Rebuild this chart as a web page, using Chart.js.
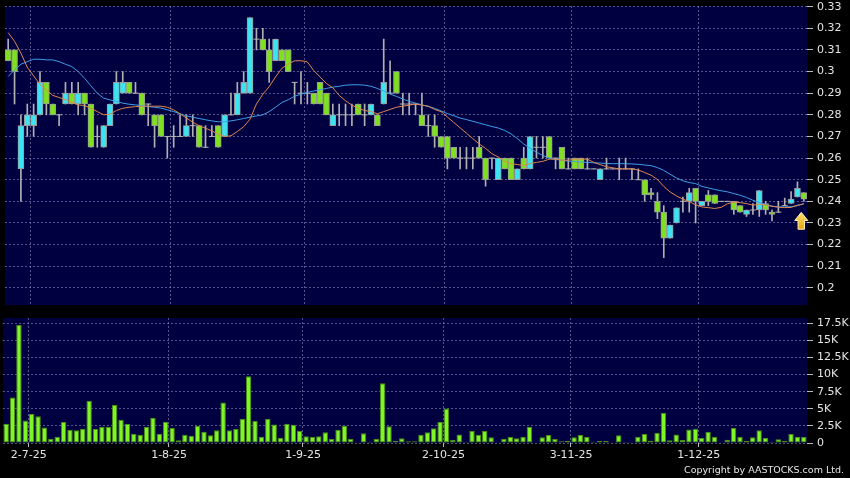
<!DOCTYPE html>
<html>
<head>
<meta charset="utf-8">
<script src="https://cdn.jsdelivr.net/npm/chart.js@4.4.1/dist/chart.umd.min.js"></script>
<style>
  html, body { margin: 0; padding: 0; background: #000; }
  #wrap { position: relative; width: 850px; height: 478px; overflow: hidden; background: #000; }
  #pricebox { position: absolute; left: 0; top: 0; width: 850px; height: 310px; }
  #volbox { position: absolute; left: 0; top: 310px; width: 850px; height: 168px; }
  #copy { position: absolute; right: 6px; top: 464px; color: #e6e6e6; font: 9.5px "DejaVu Sans", sans-serif; white-space: nowrap; }
</style>
</head>
<body>
<div id="wrap">
  <div id="pricebox"><canvas id="price" width="850" height="310"></canvas></div>
  <div id="volbox"><canvas id="vol" width="850" height="168"></canvas></div>
  <div id="copy">Copyright by AASTOCKS.com Ltd.</div>
</div>
<script>
// daily candles, oldest first
var opens = [
  .31, .31, .255, .275, .275, .28, .295, .285, .28, .285,
  .29, .285, .29, .285, .27, .265, .275, .285, .29, .295,
  .29, .29, .285, .28, .28, .27, .27, .27, .27, .275,
  .275, .265, .27, .275, .27, .28, .28, .29, .29, .315,
  .315, .31, .305, .31, .31, .295, .29, .29, .29, .295,
  .29, .275, .28, .28, .28, .285, .28, .28, .28, .285,
  .29, .30, .285, .285, .285, .28, .275, .275, .27, .27,
  .265, .26, .26, .26, .265, .26, .26, .25, .26, .26,
  .25, .26, .255, .265, .265, .27, .26, .265, .255, .26,
  .26, .255, .255, .25, .255, .255, .255, .255, .255, .25,
  .25, .244, .24, .235, .223, .23, .24, .24, .246, .238,
  .243, .243, .24, .24, .24, .238, .234, .236, .236, .239,
  .235, .235, .238, .239, .242, .244
];
var highs = [
  .315, .31, .28, .285, .285, .30, .295, .285, .28, .295,
  .295, .295, .29, .285, .275, .275, .285, .30, .30, .295,
  .295, .29, .285, .28, .28, .27, .275, .28, .28, .28,
  .275, .275, .275, .275, .28, .29, .295, .30, .325, .32,
  .32, .315, .315, .31, .31, .295, .30, .295, .29, .295,
  .29, .285, .285, .285, .285, .285, .285, .285, .28, .315,
  .305, .30, .29, .29, .285, .29, .28, .28, .27, .27,
  .265, .265, .265, .265, .27, .26, .26, .26, .26, .26,
  .255, .265, .27, .27, .27, .27, .26, .265, .26, .26,
  .26, .26, .255, .255, .26, .255, .26, .26, .255, .255,
  .25, .246, .244, .238, .229, .237, .242, .246, .246, .24,
  .245, .243, .24, .24, .24, .238, .236, .239, .245, .24,
  .236, .24, .2415, .2445, .249, .244
];
var lows = [
  .305, .285, .24, .27, .27, .28, .28, .28, .275, .285,
  .285, .28, .28, .265, .265, .265, .275, .285, .29, .29,
  .29, .28, .275, .265, .27, .26, .265, .27, .27, .27,
  .265, .265, .27, .265, .27, .28, .28, .29, .29, .31,
  .31, .295, .305, .305, .30, .285, .285, .285, .285, .285,
  .28, .275, .275, .275, .275, .28, .275, .28, .275, .285,
  .29, .29, .28, .28, .28, .275, .27, .265, .265, .255,
  .26, .255, .255, .255, .26, .247, .255, .25, .255, .25,
  .25, .255, .255, .26, .26, .26, .255, .255, .255, .255,
  .255, .255, .255, .25, .255, .255, .25, .255, .25, .25,
  .24, .241, .232, .214, .223, .23, .235, .235, .23, .238,
  .238, .239, .24, .24, .234, .235, .233, .234, .233, .234,
  .231, .235, .238, .239, .242, .24
];
var closes = [
  .305, .30, .275, .28, .28, .295, .285, .28, .28, .29,
  .285, .29, .285, .265, .27, .275, .285, .295, .295, .29,
  .29, .28, .285, .275, .27, .27, .27, .27, .275, .275,
  .265, .265, .27, .265, .28, .28, .29, .295, .325, .315,
  .31, .30, .315, .305, .30, .295, .29, .29, .285, .285,
  .28, .28, .28, .28, .28, .28, .28, .285, .275, .295,
  .29, .29, .285, .285, .285, .275, .275, .27, .265, .26,
  .26, .26, .26, .26, .26, .25, .26, .26, .255, .25,
  .255, .255, .27, .265, .265, .26, .26, .255, .255, .255,
  .255, .255, .255, .255, .255, .255, .255, .255, .255, .25,
  .243, .243, .235, .223, .229, .237, .24, .244, .24, .24,
  .24, .239, .24, .24, .236, .235, .236, .236, .245, .236,
  .234, .235, .238, .241, .246, .241
];
var volumes = [
  2820, 6660, 17260, 3300, 4230, 3900, 2280, 630, 920, 3060,
  1940, 1850, 2090, 6170, 2040, 2380, 2380, 5540, 3400, 2770,
  1360, 1200, 2330, 3700, 1360, 3100, 2190, 390, 1200, 1070,
  2530, 1650, 1120, 1850, 5930, 1850, 2040, 3550, 9770, 3210,
  920, 3500, 2720, 780, 2820, 2670, 1800, 970, 880, 970,
  1560, 580, 1940, 2530, 580, 100, 1410, 190, 630, 8750,
  2430, 340, 680, 240, 240, 1200, 1560, 2140, 3060, 5060,
  490, 1260, 150, 1800, 1200, 1750, 830, 100, 630, 880,
  680, 920, 2380, 100, 830, 1170, 580, 240, 290, 830,
  1170, 880, 190, 290, 290, 100, 1120, 150, 50, 920,
  1310, 340, 1510, 4420, 390, 1260, 440, 1990, 2090, 730,
  1650, 920, 100, 490, 2190, 920, 290, 830, 1850, 730,
  190, 530, 290, 1310, 920, 920
];
// moving averages as drawn (orange = 10 day, blue = 20 day)
var ma10 = [
  .318, .314, .3085, .302, .298, .294, .2915, .289, .288, .287,
  .2857, .2846, .2843, .283, .2815, .280, .2803, .282, .283, .2835,
  .2838, .284, .284, .284, .284, .2835, .2823, .2805, .2785, .2766,
  .275, .2738, .2726, .271, .270, .2703, .2723, .2745, .278, .285,
  .2895, .293, .2975, .3015, .3035, .305, .305, .3045, .3005, .2975,
  .2945, .2925, .289, .2865, .2845, .283, .282, .2815, .2805, .2815,
  .2825, .2835, .284, .2845, .285, .2845, .284, .2825, .2815, .279,
  .2765, .274, .2715, .269, .2665, .2645, .262, .2605, .2585, .2575,
  .257, .2565, .2575, .258, .2585, .2595, .2595, .259, .259, .2595,
  .2595, .2595, .258, .257, .256, .2555, .255, .255, .255, .2545,
  .2533, .2521, .2501, .2469, .2443, .2425, .241, .2399, .2384, .2374,
  .2371, .2367, .2372, .2389, .2396, .2394, .239, .2382, .2387, .2383,
  .2377, .2373, .2371, .2372, .2382, .2388
];
var ma20 = [
  .2977, .3008, .3034, .3046, .3057, .3057, .3054, .3054, .3046, .3034,
  .3023, .300, .2969, .2934, .290, .2877, .2869, .2862, .2854, .2849,
  .2846, .2843, .2838, .2835, .2831, .2823, .2815, .2805, .2795, .2789,
  .2783, .2777, .2772, .2768, .2768, .2772, .2777, .2783, .2789, .2795,
  .280, .2815, .2835, .2857, .287, .2886, .2895, .2904, .291, .2916,
  .2922, .2928, .2932, .2937, .2939, .2939, .2937, .2932, .2922, .291,
  .2896, .2885, .2873, .2862, .2854, .2846, .2839, .283, .2818, .2806,
  .2796, .2785, .2778, .277, .2762, .2754, .2746, .2739, .2728, .2712,
  .269, .2665, .2645, .2627, .2612, .26, .2594, .259, .2586, .2584,
  .2582, .258, .2578, .2577, .2575, .2574, .2574, .2574, .2573, .2571,
  .2568, .2565, .2556, .2543, .2525, .2508, .2495, .2487, .2482, .2469,
  .2462, .2455, .2449, .2444, .2436, .2428, .2418, .2405, .2395, .2385,
  .2378, .2374, .2374, .2375, .238, .2389
];

var tickIndex = [4, 26, 47, 69, 89, 109];
var tickText = ['2-7-25', '1-8-25', '1-9-25', '2-10-25', '3-11-25', '1-12-25'];
var priceTicks = [0.2, 0.21, 0.22, 0.23, 0.24, 0.25, 0.26, 0.27, 0.28, 0.29, 0.3, 0.31, 0.32, 0.33];
var volTicks = [0, 2500, 5000, 7500, 10000, 12500, 15000, 17500];

var navy = '#000040';
var gridCol = 'rgba(140,140,190,0.6)';
var textCol = '#e4e4e4';
var tickFont = { family: 'DejaVu Sans', size: 11 };
var upCol = '#3de3f0', downCol = '#7fe01f';

var labels = closes.map(function(c, i) { return i; });
var dojis = closes.map(function(c, i) { return c === opens[i] ? c : null; });

function dateGrid(ctx) {
  return tickIndex.indexOf(ctx.index) >= 0 ? gridCol : 'rgba(0,0,0,0)';
}
function dateTick(ctx) {
  return tickIndex.indexOf(ctx.index) >= 0 ? '#bbbbbb' : 'rgba(0,0,0,0)';
}

var plotBg = {
  id: 'plotBg',
  beforeDraw: function(chart) {
    var a = chart.chartArea, ctx = chart.ctx;
    ctx.save();
    ctx.fillStyle = navy;
    ctx.fillRect(a.left, a.top, a.right - a.left, a.bottom - a.top);
    ctx.restore();
  }
};

// yellow arrow marking the latest session
var arrowMark = { index: 124.6, tip: 0.2349, base: 0.2271 };
var arrowPlugin = {
  id: 'arrow',
  afterDatasetsDraw: function(chart) {
    var ctx = chart.ctx;
    var x = chart.scales.x.getPixelForValue(arrowMark.index);
    var yt = chart.scales.y.getPixelForValue(arrowMark.tip);
    var yb = chart.scales.y.getPixelForValue(arrowMark.base);
    var ym = yt + (yb - yt) * 0.48, hw = 6.5, sw = 3.2;
    ctx.save();
    ctx.beginPath();
    ctx.moveTo(x, yt);
    ctx.lineTo(x + hw, ym);
    ctx.lineTo(x + sw, ym);
    ctx.lineTo(x + sw, yb);
    ctx.lineTo(x - sw, yb);
    ctx.lineTo(x - sw, ym);
    ctx.lineTo(x - hw, ym);
    ctx.closePath();
    var g = ctx.createLinearGradient(0, yt, 0, yb);
    g.addColorStop(0, '#ffe070');
    g.addColorStop(1, '#e8a410');
    ctx.fillStyle = g;
    ctx.fill();
    ctx.strokeStyle = '#fff3b0';
    ctx.lineWidth = 1;
    ctx.stroke();
    ctx.restore();
  }
};

new Chart(document.getElementById('price').getContext('2d'), {
  type: 'bar',
  data: {
    labels: labels,
    datasets: [
      {
        type: 'line', label: 'MA10', data: ma10, order: 0,
        borderColor: '#e0874e', borderWidth: 1, pointRadius: 0, tension: 0
      },
      {
        type: 'line', label: 'MA20', data: ma20, order: 0,
        borderColor: '#3e9de6', borderWidth: 1, pointRadius: 0, tension: 0
      },
      {
        type: 'line', label: 'doji', data: dojis, order: 1, showLine: false,
        pointStyle: 'line', pointRadius: 3, pointBorderColor: '#b4b4b4', pointBorderWidth: 1
      },
      {
        label: 'body', order: 2, grouped: false, barThickness: 6,
        data: opens.map(function(o, i) { return [o, closes[i]]; }),
        backgroundColor: closes.map(function(c, i) { return c > opens[i] ? upCol : downCol; }),
        borderColor: '#9a9a9a', borderWidth: 1, borderSkipped: false
      },
      {
        label: 'wick', order: 3, grouped: false, barThickness: 1,
        data: lows.map(function(l, i) { return [l, highs[i]]; }),
        backgroundColor: '#b0b0b0'
      }
    ]
  },
  options: {
    responsive: false,
    animation: false,
    events: [],
    layout: { padding: { left: 3, top: 6, right: 0, bottom: 4 } },
    plugins: { legend: { display: false }, tooltip: { enabled: false } },
    scales: {
      x: {
        offset: true,
        grid: { offset: true, color: dateGrid, drawTicks: false },
        border: { display: false, dash: [2, 2] },
        ticks: { display: false, autoSkip: false },
        afterFit: function(s) { s.height = 0; s.paddingLeft = 0; s.paddingRight = 0; }
      },
      y: {
        position: 'right',
        min: 0.19207, max: 0.33032,
        afterBuildTicks: function(s) { s.ticks = priceTicks.map(function(v) { return { value: v }; }); },
        grid: { color: gridCol, tickLength: 6, tickColor: '#bbbbbb' },
        border: { display: false, dash: [2, 2] },
        ticks: { color: textCol, font: tickFont, padding: 4, callback: function(v) { return String(v); } },
        afterFit: function(s) { s.width = 43; s.paddingTop = 0; s.paddingBottom = 0; }
      }
    }
  },
  plugins: [plotBg, arrowPlugin]
});

new Chart(document.getElementById('vol').getContext('2d'), {
  type: 'bar',
  data: {
    labels: labels,
    datasets: [{
      label: 'Volume', data: volumes,
      backgroundColor: '#80f526', borderColor: '#4a8f14', borderWidth: 1, borderSkipped: false,
      barPercentage: 0.85, categoryPercentage: 1
    }]
  },
  options: {
    responsive: false,
    animation: false,
    events: [],
    layout: { padding: { left: 3, top: 8, right: 0, bottom: 0 } },
    plugins: { legend: { display: false }, tooltip: { enabled: false } },
    scales: {
      x: {
        offset: true,
        grid: { offset: true, color: dateGrid, tickColor: dateTick, tickLength: 4 },
        border: { display: false, dash: [2, 2] },
        ticks: {
          autoSkip: false, maxRotation: 0, minRotation: 0, labelOffset: -3, padding: 2,
          color: textCol, font: tickFont,
          callback: function(v, i) { var k = tickIndex.indexOf(i); return k < 0 ? '' : tickText[k]; }
        },
        afterFit: function(s) { s.height = 35; s.paddingLeft = 0; s.paddingRight = 0; }
      },
      y: {
        position: 'right',
        min: 0, max: 18270,
        afterBuildTicks: function(s) { s.ticks = volTicks.map(function(v) { return { value: v }; }); },
        grid: { color: gridCol, tickLength: 6, tickColor: '#bbbbbb' },
        border: { display: false, dash: [2, 2] },
        ticks: {
          color: textCol, font: tickFont, padding: 4,
          callback: function(v) { return v === 0 ? '0' : (v / 1000) + 'K'; }
        },
        afterFit: function(s) { s.width = 43; s.paddingTop = 0; s.paddingBottom = 0; }
      }
    }
  },
  plugins: [plotBg]
});
</script>
</body>
</html>
